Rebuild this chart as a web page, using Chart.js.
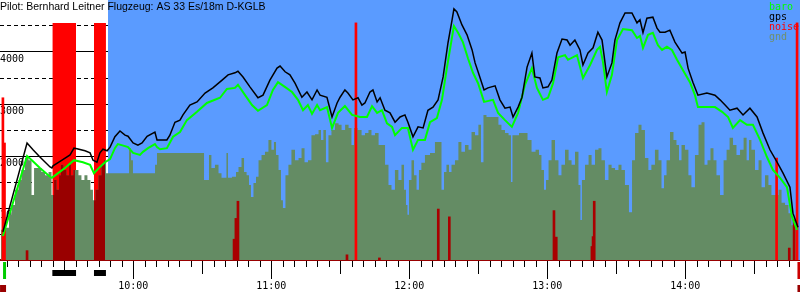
<!DOCTYPE html>
<html>
<head>
<meta charset="utf-8">
<script src="https://cdn.jsdelivr.net/npm/chart.js@4.4.0/dist/chart.umd.min.js"></script>
<style>
  html, body { margin: 0; padding: 0; background: #fff; }
</style>
</head>
<body>
<canvas id="flug" width="800" height="300"></canvas>
<script>
// all times in minutes since midnight, altitudes in ft
const title = 'Pilot: Bernhard Leitner Flugzeug: AS 33 Es/18m D-KGLB';
const legendNames = ['baro', 'gps', 'noise', 'gnd'];
const hourTicks = [600, 660, 720, 780, 840];
const solidTicks = [1000, 2000, 3000, 4000];
const dashTicks = [500, 1500, 2500, 3500, 4500];
const engineRuns = [[564.8, 575.1], [582.9, 588.1]];
const soaring = [589.0, 889.9];
const takeoffT = 543.8;
const landingT = 889.2;

const gpsT = [
  543.3,553.8,556.4,559.4,563.8,564.6,565.1,569.0,572.5,574.2,
  575.5,579.0,581.2,582.5,584.2,585.5,586.8,588.6,589.9,592.0,
  594.2,596.4,597.7,599.9,602.0,603.8,606.0,609.4,610.3,611.6,
  614.6,615.9,618.1,620.3,621.6,624.6,627.7,631.2,634.6,638.6,
  641.2,644.2,645.5,647.7,650.7,654.2,656.4,659.4,662.5,663.8,
  666.0,668.1,670.3,673.3,675.5,677.7,679.9,681.2,684.2,686.4,
  688.6,689.9,692.0,693.3,695.5,697.7,699.4,700.7,702.9,704.2,
  706.0,707.3,709.4,711.6,713.8,716.0,718.1,719.4,721.6,723.8,
  726.0,728.1,730.3,732.5,734.7,736.8,738.6,739.4,740.7,742.9,
  745.1,747.3,748.6,749.9,752.5,754.2,757.3,759.4,761.6,763.8,
  765.1,767.3,769.0,771.2,773.3,774.6,776.8,778.1,780.3,782.0,
  784.2,786.4,788.6,789.9,792.0,794.2,795.5,797.7,799.9,802.0,
  803.8,805.9,808.1,809.4,811.6,813.8,816.8,819.0,820.3,821.6,
  823.3,825.9,827.7,829.0,831.2,833.3,835.5,838.6,839.9,841.2,
  843.3,845.5,849.4,852.9,855.1,857.3,859.4,862.5,865.1,868.1,
  871.2,873.8,876.8,879.9,882.5,885.5,886.8,889.0
];
const gpsAlt = [
  540,2250,2120,1980,1790,1770,1810,1920,2020,2150,
  2140,2100,2060,1920,1880,2060,2130,2100,2170,2370,
  2480,2400,2380,2250,2210,2250,2380,2460,2310,2310,
  2310,2400,2650,2690,2790,2980,3040,3210,3310,3460,
  3560,3600,3630,3520,3330,3120,3170,3460,3690,3730,
  3620,3560,3400,3130,3230,3080,3270,3170,3130,2750,
  3020,3130,3270,3210,3080,3120,2980,3020,3230,3270,
  3040,3120,2880,2830,2650,2750,2790,2650,2370,2560,
  2540,2880,2940,3080,3520,4170,4620,4830,4770,4520,
  4330,4040,3790,3620,3270,3310,3350,3080,2920,2940,
  2750,2940,3130,3710,3980,3520,3500,3310,3330,3460,
  3980,4250,4230,4130,4230,4040,3750,3980,4080,4380,
  4230,3520,3790,4230,4560,4750,4750,4560,4620,4370,
  4650,4670,4460,4380,4380,4420,4190,3980,4000,3690,
  3420,3170,3210,3170,3080,2980,2880,2920,2790,2920,
  2750,2440,2120,1880,1670,1400,900,630
];

const baroT = [
  543.3,553.8,555.9,559.4,563.8,564.6,567.3,570.3,574.2,578.1,
  581.2,582.9,585.5,587.7,589.9,592.0,593.3,596.4,597.7,599.9,
  602.9,604.2,606.4,609.4,610.3,611.6,614.6,617.3,620.3,623.3,
  627.7,632.0,637.7,640.7,644.2,645.5,648.6,651.6,654.2,658.1,
  660.7,662.9,665.9,669.0,671.6,673.8,675.9,677.7,679.9,681.2,
  684.2,686.4,689.0,692.0,695.1,698.6,701.6,703.8,706.0,708.1,
  710.3,712.5,713.8,716.8,719.4,721.6,723.8,726.8,729.0,732.0,
  734.2,736.4,738.6,739.4,741.2,743.3,745.5,747.7,749.9,752.5,
  756.4,758.6,761.6,764.6,767.3,770.3,773.3,775.5,778.1,780.3,
  782.5,784.7,787.7,789.0,792.9,795.5,798.6,801.6,802.9,804.2,
  805.9,808.1,810.3,812.9,816.8,819.0,820.3,821.6,823.8,825.9,
  828.1,829.9,832.0,834.2,836.4,839.0,842.0,844.2,845.5,849.4,
  852.9,856.0,858.6,860.7,863.8,866.8,869.4,872.5,875.5,878.1,
  881.2,884.2,886.4,888.6
];
const baroAlt = [
  460,2000,1920,1770,1600,1580,1670,1770,1920,1880,
  1830,1670,1790,1880,1940,2150,2230,2190,2170,2060,
  2020,2080,2150,2230,2170,2130,2150,2370,2460,2690,
  2850,3020,3120,3290,3310,3370,3170,2980,2870,2980,
  3270,3420,3330,3230,3080,2880,2980,2810,2980,2880,
  2940,2540,2830,2960,2790,2750,2750,2960,2830,2880,
  2630,2560,2400,2540,2540,2120,2310,2310,2650,2730,
  3080,3710,4290,4500,4370,4190,3880,3600,3400,3040,
  3080,2830,2690,2560,2830,3370,3690,3310,3080,3120,
  3400,3900,3940,3850,3940,3500,3750,4040,4100,3810,
  3230,3560,4230,4440,4420,4270,4310,4080,4330,4370,
  4130,4040,4100,4040,3850,3650,3420,3170,2940,2940,
  2940,2850,2750,2540,2690,2600,2600,2310,1980,1730,
  1580,1400,830,580
];

const gndT = [
  542.5,545.5,546.4,547.7,549.4,550.7,552.0,553.8,555.1,556.4,
  557.3,559.4,560.7,562.5,563.8,565.1,566.0,567.3,568.1,569.0,
  570.3,571.6,572.5,573.3,574.6,575.5,576.8,578.1,579.4,580.7,
  582.0,582.9,584.2,585.5,586.8,587.7,588.6,597.7,598.6,599.4,
  600.3,609.0,609.9,610.7,630.3,631.2,632.5,633.3,634.6,636.4,
  637.7,639.0,640.3,640.7,641.6,644.2,645.1,646.4,647.7,648.6,
  649.9,650.7,651.6,652.9,653.8,655.1,656.4,658.1,659.4,660.7,
  661.6,662.5,663.8,664.6,665.5,666.8,668.1,669.4,671.2,672.5,
  673.8,675.1,676.8,678.1,679.9,681.2,682.0,683.3,684.2,685.5,
  686.8,688.6,689.9,691.2,693.0,694.2,695.5,696.4,698.6,699.9,
  701.6,702.9,704.2,706.0,707.3,708.6,710.3,711.6,712.9,714.6,
  715.9,717.3,718.1,719.0,719.4,720.3,721.6,722.5,723.8,724.6,
  725.9,727.7,730.3,732.0,733.3,734.7,735.5,736.8,737.7,739.0,
  740.7,742.0,743.3,745.1,746.4,747.7,749.4,750.7,751.6,752.9,
  754.2,758.1,759.4,760.7,762.5,763.8,764.6,765.1,770.3,772.5,
  773.8,776.0,776.8,778.1,779.0,779.9,781.2,782.5,784.2,785.5,
  786.8,788.6,789.9,791.2,792.9,794.2,794.6,795.5,797.3,798.6,
  799.9,801.6,802.9,804.2,805.9,807.3,808.6,810.3,811.6,812.9,
  814.6,816.4,817.3,819.0,820.3,821.6,823.3,824.6,825.9,827.7,
  829.0,830.3,831.2,832.5,834.2,835.5,836.8,837.7,839.0,840.7,
  842.0,843.3,845.1,846.4,847.7,849.0,850.3,851.6,852.9,854.2,
  856.0,857.3,858.6,859.9,861.6,862.9,864.7,866.0,867.3,868.1,
  869.4,871.2,872.5,873.8,875.5,876.8,878.1,879.9,881.2,882.5,
  884.2,885.5,886.8,888.6
];
const gndAlt = [
  580,620,870,1060,1350,1540,1730,1960,1920,1250,
  1770,1770,1690,1630,1690,1250,1540,1350,1630,1830,
  1730,1630,1830,1630,1730,1730,1630,1540,1630,1540,
  1350,1150,1350,1630,1830,1920,1670,1670,2150,1920,
  1670,1670,1830,2060,2060,1540,1540,2020,1770,1830,
  1670,1580,1580,2060,1580,1600,1690,1790,1960,1690,
  1630,1440,1210,1480,1600,1920,2020,2080,2310,2120,
  2270,2020,1730,1150,1000,1630,1830,2120,1920,1960,
  2150,1880,1920,2400,2420,2500,2310,2500,1880,2400,
  2500,2630,2600,2500,2600,2540,2210,2540,2500,2400,
  2440,2500,2400,2440,2210,2210,1830,1440,1350,1730,
  1540,1830,1350,1060,870,1540,1920,1630,1350,1730,
  1870,2020,2060,2270,2270,1350,1690,1830,1690,1830,
  1920,2270,2080,2210,2120,2460,2400,2600,1880,2790,
  2750,2750,2600,2500,2440,2400,1500,2400,2440,2310,
  2080,2120,2020,1730,1350,1540,1920,2310,1920,1630,
  1830,2120,1920,1830,2080,1440,770,1540,1830,2020,
  1830,2120,2150,1920,1540,1830,1770,1730,1830,1730,
  1440,920,1920,2440,2600,2500,1960,1730,1830,2120,
  1920,1380,1630,1920,2460,2310,2210,1920,2210,2120,
  1630,1400,2020,2600,2650,1830,1920,2150,1920,1630,
  1250,1920,2120,2350,2210,2020,2120,2350,1920,2310,
  2120,1730,1920,1400,1630,1440,1250,1250,1350,1100,
  1060,900,670,580
];

const noiseT = [543.3,544.0,553.8,643.8,644.6,645.5,692.9,696.8,707.0,732.6,
                737.4,782.9,783.9,799.4,799.9,800.4,879.7,885.2,887.3,888.6];
const noiseV = [3120,2250,180,400,800,1130,100,4560,40,980,
                830,950,440,260,450,1130,1960,230,770,4560];
const noiseMax = 4560;

const pts = (ts, vs) => ts.map((t, i) => ({ x: t, y: vs[i] }));
const inRuns = t => engineRuns.some(([a, b]) => t >= a - 0.3 && t <= b + 0.3);

// ground under running engine, broken between runs
const gndEngine = [];
gndT.forEach((t, i) => {
  if (inRuns(t)) gndEngine.push({ x: t, y: gndAlt[i] });
  else if (gndEngine.length && gndEngine[gndEngine.length - 1].y !== null) gndEngine.push({ x: t, y: null });
});

const engineBand = [];
engineRuns.forEach(([a, b]) => {
  engineBand.push({ x: a, y: noiseMax }, { x: b, y: noiseMax }, { x: b + 0.01, y: null });
});

const hhmm = v => Math.floor(v / 60) + ':' + String(Math.round(v % 60)).padStart(2, '0');

const decor = {
  id: 'decor',
  afterDraw(chart) {
    const ctx = chart.ctx;
    const xs = chart.scales.x;
    const base = chart.chartArea.bottom;
    ctx.save();
    // 5 minute ticks below the axis
    ctx.strokeStyle = '#000';
    ctx.lineWidth = 1;
    for (let m = Math.ceil(xs.min / 5) * 5; m <= xs.max; m += 5) {
      const px = Math.round(xs.getPixelForValue(m)) + 0.5;
      const len = m % 60 === 0 ? 18 : (m % 30 === 0 ? 13 : 6);
      ctx.beginPath();
      ctx.moveTo(px, base + 1);
      ctx.lineTo(px, base + 1 + len);
      ctx.stroke();
    }
    // engine runs
    ctx.fillStyle = '#000';
    engineRuns.forEach(([a, b]) => {
      const x0 = xs.getPixelForValue(a);
      ctx.fillRect(x0, base + 10, xs.getPixelForValue(b) - x0, 6);
    });
    // takeoff and landing markers
    const tx = xs.getPixelForValue(takeoffT);
    const lx = xs.getPixelForValue(landingT);
    ctx.fillStyle = '#00cc00';
    ctx.fillRect(tx - 1, base + 2, 3, 17);
    ctx.fillStyle = '#cc0000';
    ctx.fillRect(lx - 1, base + 2, 3, 17);
    ctx.fillStyle = '#990000';
    ctx.fillRect(tx - 4, base + 25, 6, 7);
    ctx.fillRect(lx - 1, base + 25, 6, 7);
    // title
    ctx.textAlign = 'left';
    ctx.textBaseline = 'alphabetic';
    ctx.fillStyle = '#000';
    ctx.font = '10.5px "Liberation Sans"';
    ctx.fillText(title, 0, 10);
    // legend
    ctx.font = '10px "DejaVu Sans Mono"';
    const cols = ['#00ff00', '#000000', '#ff0000', '#6f8f6f'];
    legendNames.forEach((n, i) => {
      ctx.fillStyle = cols[i];
      ctx.fillText(n, 769, 10 + i * 10);
    });
    ctx.restore();
  }
};

new Chart(document.getElementById('flug'), {
  type: 'line',
  data: {
    datasets: [
      { label: 'gps', data: pts(gpsT, gpsAlt), borderColor: '#000', borderWidth: 1.5, order: 0 },
      { label: 'baro', data: pts(baroT, baroAlt), borderColor: '#00ff00', borderWidth: 2, order: 1 },
      { type: 'bar', label: 'noise', data: pts(noiseT, noiseV), barThickness: 2,
        backgroundColor: noiseV.map(v => v >= 1500 ? '#ff0000' : '#aa0000'), order: 2 },
      { label: 'gnd engine', data: gndEngine, borderWidth: 0, stepped: 'middle',
        backgroundColor: '#990000', fill: 'origin', order: 3 },
      { label: 'gnd', data: pts(gndT, gndAlt), borderWidth: 0, stepped: 'middle',
        backgroundColor: '#648c64', fill: 'origin', order: 4 },
      { label: 'engine', data: engineBand, borderWidth: 0, backgroundColor: '#ff0000', fill: 'origin', order: 5 },
      { label: 'soaring', data: [{ x: soaring[0], y: 5000 }, { x: soaring[1], y: 5000 }],
        borderWidth: 0, backgroundColor: '#5a9bff', fill: 'origin', order: 6 }
    ]
  },
  options: {
    responsive: false,
    animation: false,
    events: [],
    layout: { autoPadding: false, padding: 0 },
    elements: { point: { radius: 0 }, line: { tension: 0 } },
    plugins: { legend: { display: false }, tooltip: { enabled: false }, title: { display: false } },
    scales: {
      x: {
        type: 'linear', min: 542.04, max: 889.87, offset: false,
        afterBuildTicks: s => { s.ticks = hourTicks.map(v => ({ value: v })); },
        afterFit: s => { s.height = 40; },
        ticks: { autoSkip: false, maxRotation: 0, padding: 20, color: '#000',
                 font: { family: 'DejaVu Sans Mono', size: 10 }, callback: v => hhmm(v) },
        grid: { display: false, drawTicks: false },
        border: { color: '#990000', width: 2 }
      },
      y: {
        min: 0, max: 5000, z: 1,
        afterBuildTicks: s => { s.ticks = solidTicks.map(v => ({ value: v })); },
        afterFit: s => { s.width = 0; s.paddingTop = 0; s.paddingBottom = 0; },
        ticks: { mirror: true, padding: 0, labelOffset: 7, color: '#000',
                 font: { family: 'DejaVu Sans Mono', size: 10 }, callback: v => String(v) },
        grid: { color: '#000', lineWidth: 1, drawTicks: false },
        border: { display: false }
      },
      y2: {
        position: 'left', min: 0, max: 5000, z: 1,
        afterBuildTicks: s => { s.ticks = dashTicks.map(v => ({ value: v })); },
        afterFit: s => { s.width = 0; s.paddingTop = 0; s.paddingBottom = 0; },
        ticks: { display: false },
        grid: { color: '#000', lineWidth: 1, drawTicks: false },
        border: { display: false, dash: [4, 3] }
      }
    }
  },
  plugins: [decor]
});
</script>
</body>
</html>
